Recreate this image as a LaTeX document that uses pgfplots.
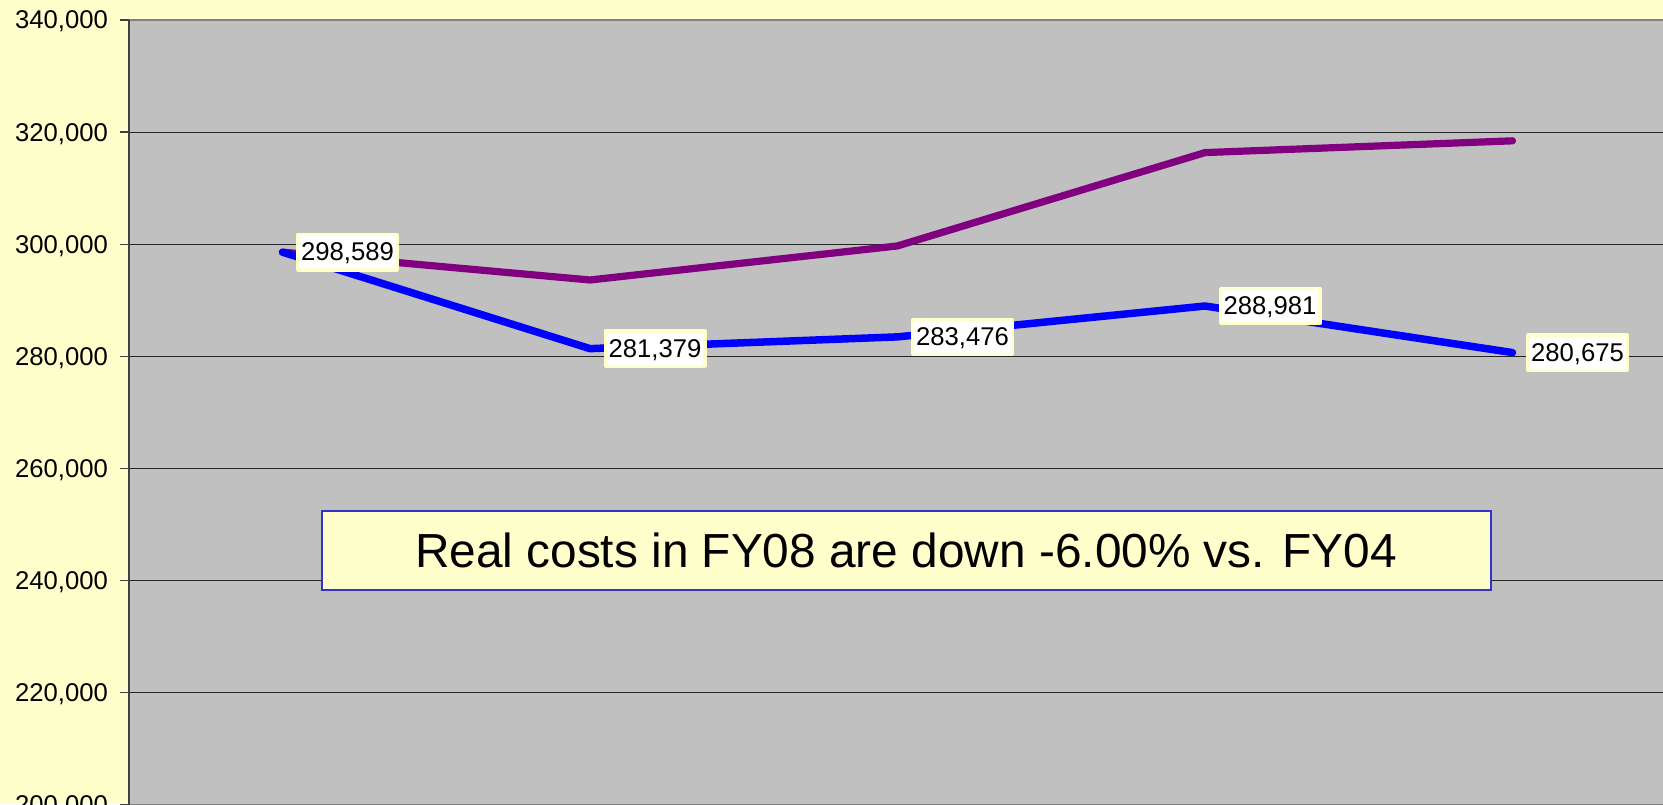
\documentclass[border=0pt]{standalone}
\usepackage{pgfplots}
\pgfplotsset{compat=1.18}
\usepackage{fontspec}
\setmainfont{Liberation Sans}
\definecolor{bgyellow}{HTML}{FFFFCC}
\definecolor{plotgray}{HTML}{C0C0C0}
\definecolor{realblue}{HTML}{0000FF}
\definecolor{nompurple}{HTML}{800080}
\definecolor{boxblue}{HTML}{3333CC}
\definecolor{framegray}{HTML}{808080}
\begin{document}
\begin{tikzpicture}
\useasboundingbox (0,0) rectangle (166.3mm,-80.4mm);
\clip (0,0) rectangle (166.3mm,-80.4mm);
\fill[bgyellow] (0,0) rectangle (166.3mm,-80.4mm);
\begin{axis}[
  at={(12.875mm,-80.48mm)}, anchor=south west,
  scale only axis, width=153.75mm, height=78.48mm,
  xmin=-0.5, xmax=4.5, ymin=200000, ymax=340000,
  ytick={200000,220000,240000,260000,280000,300000,320000,340000},
  xtick=\empty,
  scaled y ticks=false,
  /pgf/number format/assume math mode=true,
  /pgf/number format/fixed,
  /pgf/number format/precision=0,
  /pgf/number format/1000 sep={,},
  yticklabel style={font=\fontsize{7.3pt}{8pt}\selectfont, text height=5.1pt, text depth=0pt},
  tick align=outside, major tick length=0.85mm,
  ytick pos=left,
  ytick style={black!75, line width=0.15mm},
  ymajorgrids, major grid style={black!85, line width=0.1mm},
  axis background/.style={fill=plotgray},
  separate axis lines,
  x axis line style={framegray, line width=0.2mm},
  y axis line style={black!75, line width=0.15mm},
  clip=false,
]
\addplot[nompurple, line width=0.72mm, line cap=round, line join=round]
  coordinates {(0,298589) (1,293625) (2,299700) (3,316350) (4,318450)};
\addplot[realblue, line width=0.75mm, line cap=round, line join=round,
  nodes near coords={\pgfmathprintnumber[assume math mode=true,fixed,precision=0,1000 sep={,}]{\pgfplotspointmeta}},
  every node near coord/.style={anchor=west, xshift=1.35mm, text=black, fill=white,
    draw=bgyellow, line width=0.33mm, inner xsep=0.35mm, inner ysep=0.9mm,
    text height=1.74mm, text depth=0pt, font=\fontsize{7.3pt}{8pt}\selectfont}]
  coordinates {(0,298589) (1,281379) (2,283476) (3,288981) (4,280675)};
\node[draw=boxblue, line width=0.2mm, fill=bgyellow, minimum width=116.9mm, minimum height=7.9mm,
  inner sep=0pt, font=\fontsize{13.6pt}{15.5pt}\selectfont] at (axis cs:2.028,245350)
  {Real costs in FY08 are down -6.00\% vs. FY04};
\end{axis}
\end{tikzpicture}
\end{document}
